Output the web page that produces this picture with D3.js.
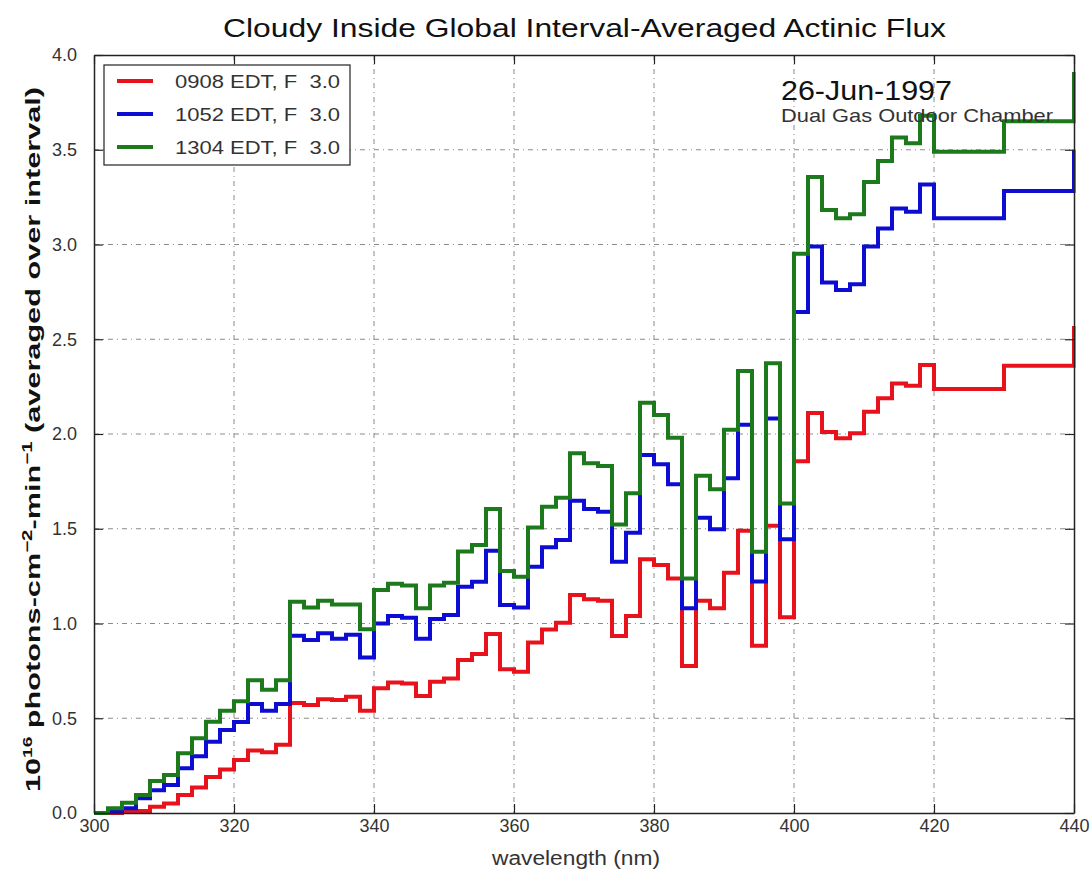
<!DOCTYPE html>
<html>
<head>
<meta charset="utf-8">
<script src="https://cdn.jsdelivr.net/npm/d3@7"></script>
<style>
  body { margin: 0; background: #fff; }
  text { font-family: "Liberation Sans", Arial, Helvetica, sans-serif; }
</style>
</head>
<body>
<div class="chart"></div>
<script>
//Bin edges (nm): 2 nm bins up to 420, then 10 nm bins
var binEdges = [300, 302, 304, 306, 308, 310, 312, 314, 316, 318,
    320, 322, 324, 326, 328, 330, 332, 334, 336, 338,
    340, 342, 344, 346, 348, 350, 352, 354, 356, 358,
    360, 362, 364, 366, 368, 370, 372, 374, 376, 378,
    380, 382, 384, 386, 388, 390, 392, 394, 396, 398,
    400, 402, 404, 406, 408, 410, 412, 414, 416, 418,
    420, 430, 440, 450];

//Interval-averaged flux, one value per bin (10^16 photons cm-2 min-1)
var flux0908 = [0.0, 0.0, 0.01, 0.01, 0.033, 0.05, 0.095, 0.134, 0.19, 0.23,
    0.28, 0.33, 0.32, 0.36, 0.58, 0.57, 0.60, 0.596, 0.614, 0.54,
    0.658, 0.688, 0.684, 0.617, 0.693, 0.71, 0.807, 0.839, 0.945, 0.758,
    0.746, 0.90, 0.969, 1.004, 1.15, 1.128, 1.12, 0.934, 1.04, 1.339,
    1.309, 1.238, 0.776, 1.12, 1.08, 1.268, 1.489, 0.882, 1.516, 1.033,
    1.856, 2.111, 2.011, 1.978, 2.004, 2.118, 2.188, 2.267, 2.255, 2.364,
    2.237, 2.36, 2.56];

var flux1052 = [0.0, 0.005, 0.025, 0.078, 0.12, 0.148, 0.236, 0.30, 0.376, 0.438,
    0.48, 0.575, 0.54, 0.575, 0.935, 0.913, 0.948, 0.92, 0.94, 0.82,
    1.00, 1.04, 1.03, 0.92, 1.024, 1.045, 1.194, 1.22, 1.384, 1.098,
    1.085, 1.30, 1.402, 1.44, 1.648, 1.604, 1.59, 1.326, 1.479, 1.889,
    1.84, 1.735, 1.08, 1.558, 1.497, 1.767, 2.049, 1.222, 2.082, 1.444,
    2.644, 2.99, 2.80, 2.76, 2.79, 2.99, 3.085, 3.19, 3.173, 3.317,
    3.138, 3.282, 3.49];

var flux1304 = [0.0, 0.025, 0.054, 0.095, 0.169, 0.20, 0.315, 0.394, 0.482, 0.54,
    0.59, 0.70, 0.65, 0.70, 1.115, 1.085, 1.12, 1.10, 1.10, 0.97,
    1.177, 1.21, 1.20, 1.08, 1.20, 1.215, 1.38, 1.414, 1.604, 1.277,
    1.247, 1.506, 1.616, 1.664, 1.898, 1.845, 1.831, 1.523, 1.687, 2.165,
    2.10, 1.98, 1.238, 1.78, 1.708, 2.022, 2.333, 1.378, 2.373, 1.633,
    2.951, 3.356, 3.182, 3.138, 3.16, 3.33, 3.44, 3.564, 3.534, 3.68,
    3.49, 3.65, 3.9];

var seriesNames = ["0908 EDT, F  3.0", "1052 EDT, F  3.0", "1304 EDT, F  3.0"];
var seriesColors = ["#e8121c", "#0c0cd2", "#1c7a1c"];
var xTicks = [300, 320, 340, 360, 380, 400, 420, 440];
var yTicks = [0, 0.5, 1, 1.5, 2, 2.5, 3, 3.5, 4];

var width = 1092, height = 874;
var plot = {left: 94, right: 1074, top: 55, bottom: 813};

var x = d3.scaleLinear().domain([300, 440]).range([plot.left, plot.right]);
var y = d3.scaleLinear().domain([0, 4]).range([plot.bottom, plot.top]);

var svg = d3.select(".chart").append("svg")
    .attr("width", width)
    .attr("height", height);

//Grid lines (matlab style dotted)
var grid = svg.append("g").attr("stroke", "#8a8a8a").attr("stroke-width", 1)
    .attr("stroke-dasharray", "5,4,1,4");
grid.selectAll("line.gx").data(xTicks.slice(1, -1)).enter().append("line")
    .attr("x1", d => x(d)).attr("x2", d => x(d))
    .attr("y1", plot.top).attr("y2", plot.bottom);
grid.selectAll("line.gy").data(yTicks.slice(1, -1)).enter().append("line")
    .attr("y1", d => y(d)).attr("y2", d => y(d))
    .attr("x1", plot.left).attr("x2", plot.right);

//Clip for the step lines
svg.append("clipPath").attr("id", "clip")
    .append("rect")
    .attr("x", plot.left).attr("y", plot.top - 2)
    .attr("width", plot.right - plot.left + 1.5)
    .attr("height", plot.bottom - plot.top + 4);

//Step lines: point (edge, value) per bin, plus the closing edge
var stepLine = d3.line()
    .x(d => x(d[0]))
    .y(d => y(d[1]))
    .curve(d3.curveStepAfter);

function toSteps(values) {
    var pts = values.map((v, i) => [binEdges[i], v]);
    pts.push([binEdges[values.length], values[values.length - 1]]);
    return pts;
}

var lines = svg.append("g").attr("clip-path", "url(#clip)");
[flux0908, flux1052, flux1304].forEach(function(series, i) {
    lines.append("path")
        .attr("d", stepLine(toSteps(series)))
        .attr("fill", "none")
        .attr("stroke", seriesColors[i])
        .attr("stroke-width", 4)
        .attr("stroke-linejoin", "miter");
});

//Axes with inward ticks on all four sides
var fontSize = 18;
var xAxis = svg.append("g")
    .attr("transform", "translate(0," + plot.bottom + ")")
    .call(d3.axisBottom(x).tickValues(xTicks).tickSizeInner(-9).tickSizeOuter(0)
        .tickPadding(8).tickFormat(d3.format("d")));
var yAxis = svg.append("g")
    .attr("transform", "translate(" + plot.left + ",0)")
    .call(d3.axisLeft(y).tickValues(yTicks).tickSizeInner(-9).tickSizeOuter(0)
        .tickPadding(17).tickFormat(d3.format(".1f")));
var topAxis = svg.append("g")
    .attr("transform", "translate(0," + plot.top + ")")
    .call(d3.axisTop(x).tickValues(xTicks).tickSizeInner(-9).tickSizeOuter(0).tickFormat(""));
var rightAxis = svg.append("g")
    .attr("transform", "translate(" + plot.right + ",0)")
    .call(d3.axisRight(y).tickValues(yTicks).tickSizeInner(-9).tickSizeOuter(0).tickFormat(""));

[xAxis, yAxis, topAxis, rightAxis].forEach(function(ax) {
    ax.select(".domain").attr("stroke", "#222").attr("stroke-width", 1.5);
    ax.selectAll(".tick line").attr("stroke", "#222").attr("stroke-width", 1.2);
    ax.selectAll(".tick text")
        .attr("fill", "#333")
        .style("font-size", fontSize + "px");
});
xAxis.selectAll(".tick text").attr("dy", "0.6em");

//Title
svg.append("text")
    .attr("x", 223).attr("y", 37)
    .attr("textLength", 723).attr("lengthAdjust", "spacingAndGlyphs")
    .style("font-size", "25px")
    .attr("fill", "#111")
    .text("Cloudy Inside Global Interval-Averaged Actinic Flux");

//X label
svg.append("text")
    .attr("x", 492).attr("y", 865)
    .attr("textLength", 168).attr("lengthAdjust", "spacingAndGlyphs")
    .style("font-size", "20px")
    .attr("fill", "#333")
    .text("wavelength (nm)");

//Y label with superscripts
var ylab = svg.append("text")
    .attr("transform", "translate(40,792) rotate(-90)")
    .attr("textLength", 705).attr("lengthAdjust", "spacingAndGlyphs")
    .style("font-size", "21px")
    .style("font-weight", "bold")
    .attr("fill", "#111");
ylab.append("tspan").text("10");
ylab.append("tspan").attr("dy", -8).style("font-size", "13px").text("16");
ylab.append("tspan").attr("dy", 8).text(" photons-cm");
ylab.append("tspan").attr("dy", -8).style("font-size", "14px").text("\u22122");
ylab.append("tspan").attr("dy", 8).text("-min");
ylab.append("tspan").attr("dy", -8).style("font-size", "14px").text("\u22121");
ylab.append("tspan").attr("dy", 8).text(" (averaged over interval)");

//Annotation
svg.append("text")
    .attr("x", 781).attr("y", 100)
    .attr("textLength", 171).attr("lengthAdjust", "spacingAndGlyphs")
    .style("font-size", "28px")
    .attr("fill", "#111")
    .text("26-Jun-1997");
svg.append("text")
    .attr("x", 781).attr("y", 122)
    .attr("textLength", 272).attr("lengthAdjust", "spacingAndGlyphs")
    .style("font-size", "19px")
    .attr("fill", "#333")
    .text("Dual Gas Outdoor Chamber");

//Legend
var legend = svg.append("g");
legend.append("rect")
    .attr("x", 104).attr("y", 65)
    .attr("width", 246).attr("height", 100)
    .attr("fill", "#fff")
    .attr("stroke", "#222").attr("stroke-width", 1.2);
seriesNames.forEach(function(name, i) {
    var ly = 81 + i * 33;
    legend.append("line")
        .attr("x1", 117).attr("x2", 153)
        .attr("y1", ly).attr("y2", ly)
        .attr("stroke", seriesColors[i]).attr("stroke-width", 4);
    legend.append("text")
        .attr("x", 175).attr("y", ly + 7)
        .attr("textLength", 165).attr("lengthAdjust", "spacingAndGlyphs")
        .style("font-size", "19px")
        .style("white-space", "pre")
        .attr("fill", "#333")
        .text(name);
});
</script>
</body>
</html>
